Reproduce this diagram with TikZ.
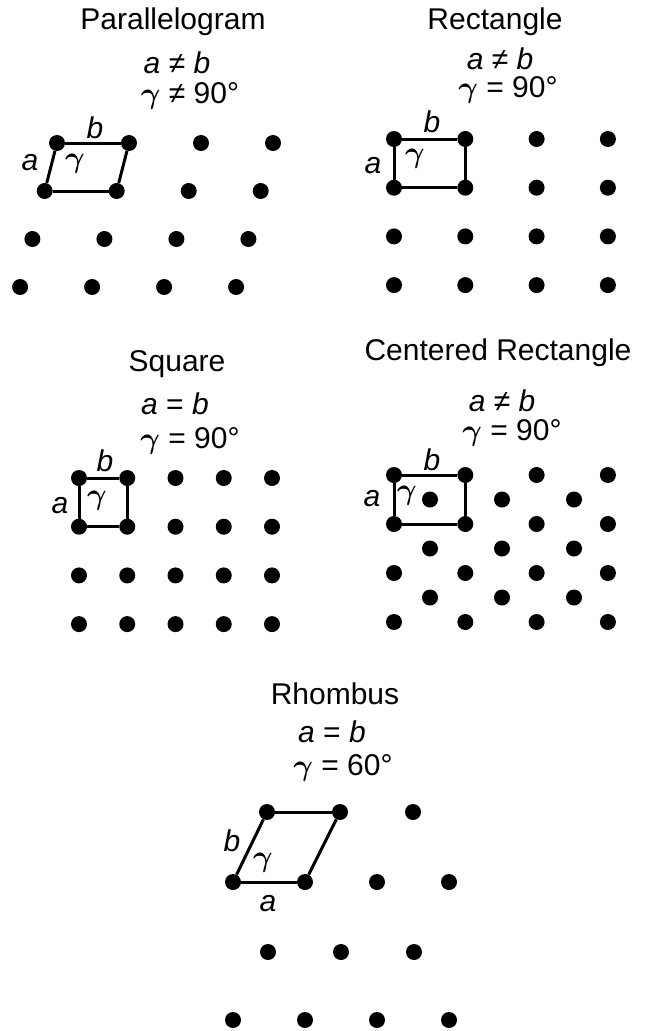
\RequirePackage{fix-cm}
\documentclass[tikz,border=0pt]{standalone}
\usepackage{fontspec}
\setmainfont{Liberation Sans}
\newcommand{\lbl}{\fontsize{30}{34}\selectfont}
\newcommand{\gam}{{\boldmath$\gamma$}}
\newcommand{\gl}{{\boldmath$\gamma$}}
\begin{document}
\begin{tikzpicture}[x=1pt,y=-1pt,
  dot/.style={circle,fill=black,inner sep=0pt,minimum size=16pt},
  edge/.style={line width=3pt,black},
  txt/.style={inner sep=0pt,font=\lbl},
]
\useasboundingbox (0,0) rectangle (646,1031);
% ---------- Parallelogram ----------
\foreach \r in {0,...,3}{\foreach \c in {0,...,3}{
  \node[dot] (P\r\c) at ({57-12.3*\r+72*\c},{143+48*\r}) {};}}
\draw[edge] (P00) -- (P01);
\draw[edge] (P01) -- (P11);
\draw[edge] (P11) -- (P10);
\draw[edge] (P10) -- (P00);
\node[txt] (Pt) at (173,22) {Parallelogram};
\node[txt] (Pm1) at (177,63) {\textit{a} ≠ \textit{b}};
\node[txt] (Pm2) at (190,96) {\gam{} ≠ 90°};
\node[txt] (Pa) at (30,163) {\textit{a}};
\node[txt] (Pb) at (95,128) {\textit{b}};
\node[txt] (Pg) at (75,164) {\gl};
% ---------- Rectangle ----------
\foreach \r in {0,...,3}{\foreach \c in {0,...,3}{
  \node[dot] (R\r\c) at ({394+71.3*\c},{139+48.7*\r}) {};}}
\draw[edge] (R00) -- (R01);
\draw[edge] (R01) -- (R11);
\draw[edge] (R11) -- (R10);
\draw[edge] (R10) -- (R00);
\node[txt] (Rt) at (495,22) {Rectangle};
\node[txt] (Rm1) at (500,59) {\textit{a} ≠ \textit{b}};
\node[txt] (Rm2) at (508,90) {\gam{} = 90°};
\node[txt] (Ra) at (373,166) {\textit{a}};
\node[txt] (Rb) at (432,122) {\textit{b}};
\node[txt] (Rg) at (415,159) {\gl};
% ---------- Square ----------
\foreach \r in {0,...,3}{\foreach \c in {0,...,4}{
  \node[dot] (S\r\c) at ({79+48.25*\c},{478+48.7*\r}) {};}}
\draw[edge] (S00) -- (S01);
\draw[edge] (S01) -- (S11);
\draw[edge] (S11) -- (S10);
\draw[edge] (S10) -- (S00);
\node[txt] (St) at (177,364) {Square};
\node[txt] (Sm1) at (175,404) {\textit{a} = \textit{b}};
\node[txt] (Sm2) at (190,441) {\gam{} = 90°};
\node[txt] (Sa) at (60,506) {\textit{a}};
\node[txt] (Sb) at (105,461) {\textit{b}};
\node[txt] (Sg) at (97,501) {\gl};
% ---------- Centered Rectangle ----------
\foreach \r in {0,...,3}{\foreach \c in {0,...,3}{
  \node[dot] (C\r\c) at ({394+71.3*\c},{475+49*\r}) {};}}
\foreach \r in {0,...,2}{\foreach \c in {0,...,2}{
  \node[dot] (D\r\c) at ({430+72*\c},{499.5+49*\r}) {};}}
\draw[edge] (C00) -- (C01);
\draw[edge] (C01) -- (C11);
\draw[edge] (C11) -- (C10);
\draw[edge] (C10) -- (C00);
\node[txt] (Ct) at (498,353) {Centered Rectangle};
\node[txt] (Cm1) at (502,401) {\textit{a} ≠ \textit{b}};
\node[txt] (Cm2) at (512,433) {\gam{} = 90°};
\node[txt] (Ca) at (372,499) {\textit{a}};
\node[txt] (Cb) at (432,460) {\textit{b}};
\node[txt] (Cg) at (407,496) {\gl};
% ---------- Rhombus ----------
\foreach \c in {0,...,2}{\node[dot] (H0\c) at ({267+73*\c},812) {};}
\foreach \c in {0,...,3}{\node[dot] (H1\c) at ({233+72*\c},882) {};}
\foreach \c in {0,...,2}{\node[dot] (H2\c) at ({268+73*\c},952) {};}
\foreach \c in {0,...,3}{\node[dot] (H3\c) at ({233+72*\c},1020) {};}
\draw[edge] (H00) -- (H01);
\draw[edge] (H01) -- (H11);
\draw[edge] (H11) -- (H10);
\draw[edge] (H10) -- (H00);
\node[txt] (Ht) at (335,694) {Rhombus};
\node[txt] (Hm1) at (332,732) {\textit{a} = \textit{b}};
\node[txt] (Hm2) at (343,768) {\gam{} = 60°};
\node[txt] (Hb) at (232,841) {\textit{b}};
\node[txt] (Hg) at (263,863) {\gl};
\node[txt] (Ha) at (268,904) {\textit{a}};
\end{tikzpicture}
\end{document}
